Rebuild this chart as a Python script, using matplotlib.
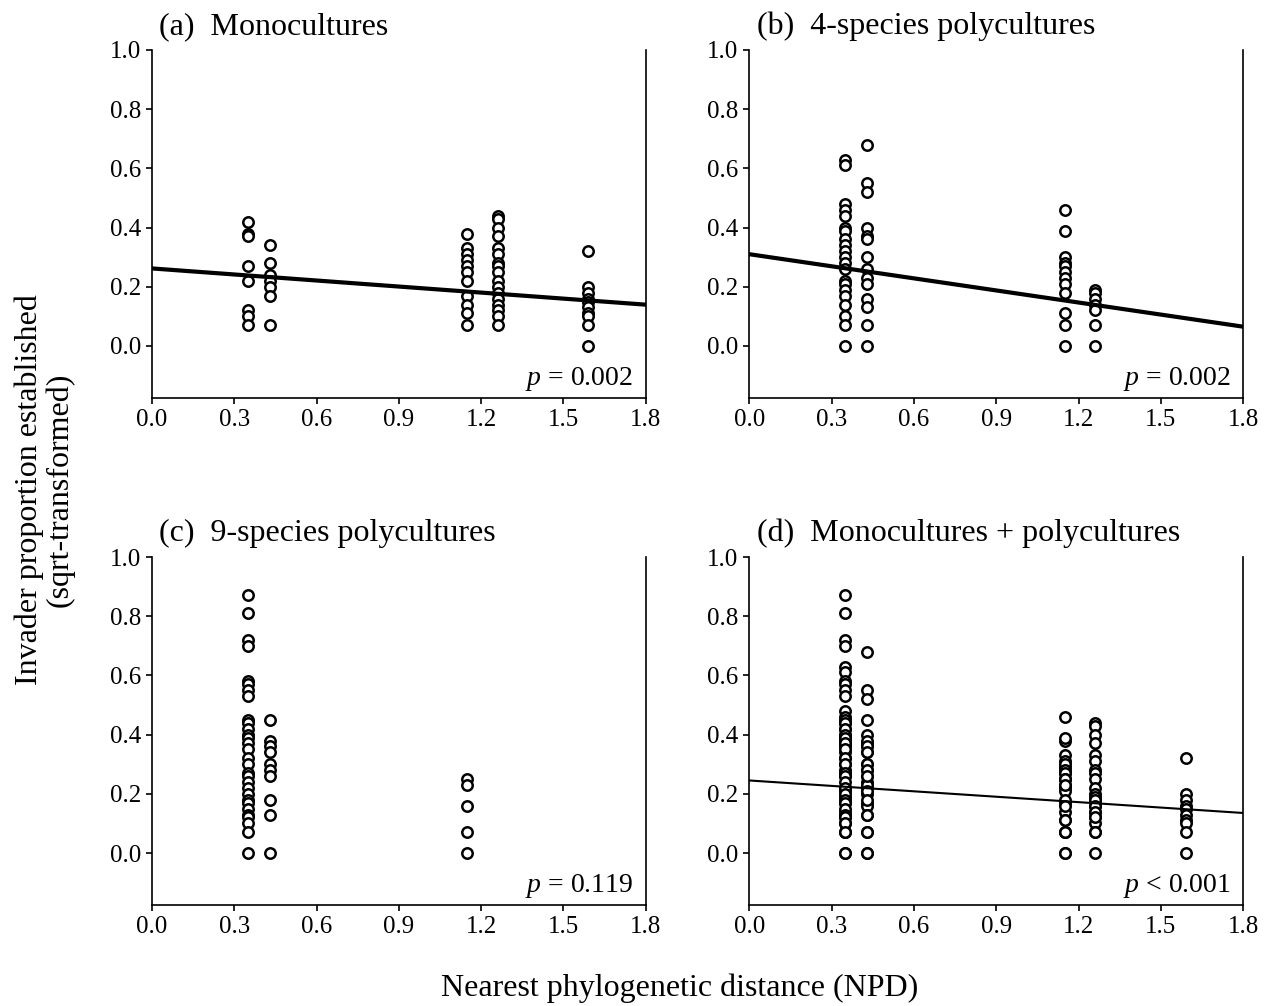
# Invader establishment vs nearest phylogenetic distance, 4 panels
import numpy as np
import matplotlib.pyplot as plt

plt.rcParams['font.family'] = ['Liberation Serif', 'DejaVu Serif']
plt.rcParams['mathtext.fontset'] = 'custom'
plt.rcParams['mathtext.it'] = 'Liberation Serif:italic'
plt.rcParams['mathtext.rm'] = 'Liberation Serif'

# NPD values of the resident communities
npd_a = [0.35, 0.43, 1.15, 1.26, 1.59]
npd_b = [0.35, 0.43, 1.15, 1.26]
npd_c = [0.35, 0.43, 1.15]

# (a) monocultures, one list per NPD column
mono = [
    [0.42, 0.38, 0.37, 0.27, 0.22, 0.12, 0.10, 0.07],
    [0.34, 0.28, 0.24, 0.22, 0.20, 0.17, 0.07],
    [0.38, 0.33, 0.31, 0.29, 0.27, 0.25, 0.22, 0.17, 0.14, 0.11, 0.07],
    [0.44, 0.43, 0.40, 0.37, 0.33, 0.31, 0.28, 0.27, 0.25, 0.22, 0.20,
     0.18, 0.16, 0.14, 0.12, 0.10, 0.07],
    [0.32, 0.20, 0.18, 0.16, 0.15, 0.13, 0.11, 0.10, 0.07, 0.0],
]

# (b) 4-species polycultures
poly4 = [
    [0.63, 0.61, 0.48, 0.46, 0.44, 0.40, 0.39, 0.36, 0.34, 0.32, 0.30,
     0.28, 0.26, 0.22, 0.21, 0.19, 0.17, 0.14, 0.10, 0.07, 0.0],
    [0.68, 0.55, 0.52, 0.40, 0.37, 0.36, 0.30, 0.26, 0.23, 0.21, 0.16,
     0.13, 0.07, 0.0],
    [0.46, 0.39, 0.30, 0.28, 0.27, 0.25, 0.23, 0.21, 0.18, 0.11, 0.07, 0.0],
    [0.19, 0.18, 0.16, 0.14, 0.12, 0.07, 0.0],
]

# (c) 9-species polycultures
poly9 = [
    [0.87, 0.81, 0.72, 0.70, 0.58, 0.57, 0.55, 0.53, 0.45, 0.44, 0.42,
     0.40, 0.39, 0.37, 0.35, 0.32, 0.30, 0.27, 0.26, 0.24, 0.22, 0.20,
     0.18, 0.17, 0.15, 0.13, 0.12, 0.10, 0.07, 0.0],
    [0.45, 0.38, 0.36, 0.34, 0.30, 0.28, 0.26, 0.18, 0.13, 0.0],
    [0.25, 0.23, 0.16, 0.07, 0.0],
]

# fitted lines (intercept, slope) and p-values
fit_a = (0.262, -0.068)
fit_b = (0.310, -0.136)
fit_d = (0.245, -0.061)

titles = ['(a)  Monocultures', '(b)  4-species polycultures',
          '(c)  9-species polycultures', '(d)  Monocultures + polycultures']
pvals = ['= 0.002', '= 0.002', '= 0.119', '< 0.001']


def flatten(npd, groups):
    xs, ys = [], []
    for x, g in zip(npd, groups):
        xs += [x] * len(g)
        ys += g
    return xs, ys


xa, ya = flatten(npd_a, mono)
xb, yb = flatten(npd_b, poly4)
xc, yc = flatten(npd_c, poly9)
xd, yd = xa + xb + xc, ya + yb + yc

panels = [(xa, ya, fit_a, 3.0), (xb, yb, fit_b, 3.0),
          (xc, yc, None, 0), (xd, yd, fit_d, 1.5)]

fig = plt.figure(figsize=(12.66, 10.06), dpi=100)
pos = [[0.120, 0.6046, 0.390, 0.3457], [0.592, 0.6046, 0.390, 0.3457],
       [0.120, 0.1006, 0.390, 0.3457], [0.592, 0.1006, 0.390, 0.3457]]

for i, (xs, ys, fit, lw) in enumerate(panels):
    ax = fig.add_axes(pos[i])
    ax.plot(xs, ys, 'o', mfc='white', mec='black', ms=7.5, mew=1.8,
            linestyle='none', zorder=3)
    if fit is not None:
        xl = np.array([0, 1.8])
        ax.plot(xl, fit[0] + fit[1] * xl, color='black', lw=lw, zorder=4)
    ax.set_xlim(0, 1.8)
    ax.set_ylim(-0.175, 1.0)
    ax.set_xticks(np.arange(0, 1.81, 0.3))
    ax.set_yticks(np.arange(0, 1.01, 0.2))
    ax.xaxis.set_major_formatter(plt.FormatStrFormatter('%.1f'))
    ax.yaxis.set_major_formatter(plt.FormatStrFormatter('%.1f'))
    ax.tick_params(labelsize=18, width=1.2, length=4, direction='out',
                   pad=4)
    ax.spines['top'].set_visible(False)
    for s in ['left', 'bottom', 'right']:
        ax.spines[s].set_linewidth(1.2)
    ax.text(0.015, 1.025, titles[i], transform=ax.transAxes, fontsize=23,
            ha='left', va='bottom')
    ax.text(0.975, 0.015, '$p$ ' + pvals[i], transform=ax.transAxes,
            fontsize=20, ha='right', va='bottom')

fig.text(0.035, 0.513, 'Invader proportion established\n(sqrt-transformed)',
         rotation=90, ha='center', va='center', fontsize=23,
         linespacing=1.05)
fig.text(0.537, 0.018, 'Nearest phylogenetic distance (NPD)', ha='center',
         va='center', fontsize=23)

plt.savefig('out.png')
